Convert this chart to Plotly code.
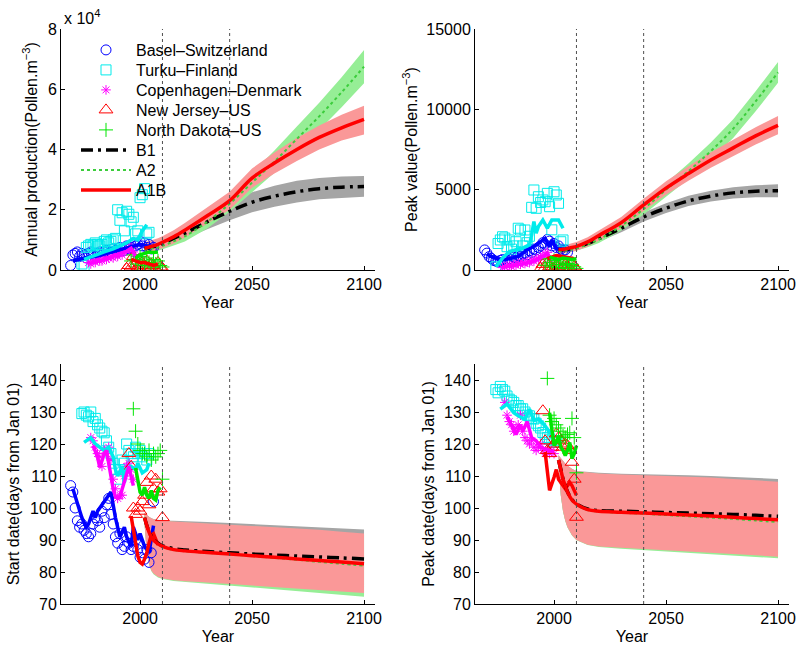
import plotly.graph_objects as go

# ---------------- observed data ----------------
# Panel 1: annual production (x 10^4 pollen m-3)
basel_years = list(range(1969, 2007))
basel_ann = [0.15, 0.5, 0.55, 0.6, 0.45, 0.55, 0.5, 0.4, 0.55, 0.6, 0.5, 0.45, 0.55, 0.6, 0.5,
             0.6, 0.65, 0.55, 0.6, 0.7, 0.65, 0.6, 0.75, 0.7, 0.65, 0.8, 0.7, 0.75, 0.9, 0.8,
             0.85, 0.95, 0.8, 0.9, 0.75, 0.85, 0.7, 0.75]
basel_ann_line_years = [1970, 1975, 1980, 1985, 1990, 1995, 2000, 2003, 2006]
basel_ann_line = [0.3, 0.4, 0.45, 0.55, 0.65, 0.75, 0.85, 0.8, 0.75]

turku_years = list(range(1974, 2005))
turku_ann = [0.2, 0.15, 0.75, 0.8, 0.85, 0.8, 0.9, 0.85, 0.8, 0.85, 0.95, 1.0, 0.9, 0.95, 1.0,
             1.05, 2.0, 1.65, 1.9, 1.3, 1.95, 1.85, 1.6, 1.75, 1.2, 1.3, 2.4, 2.5, 2.7, 1.2, 1.25]
turku_ann_line_years = [1975, 1980, 1984, 1988, 1991, 1994, 1997, 1999, 2001, 2003]
turku_ann_line = [0.35, 0.5, 0.6, 0.7, 0.8, 0.9, 1.05, 1.0, 1.3, 1.5]

cph_years = list(range(1977, 1999))
cph_ann = [0.25, 0.2, 0.3, 0.25, 0.35, 0.3, 0.3, 0.4, 0.35, 0.4, 0.45, 0.4, 0.5, 0.45, 0.55,
           0.5, 0.6, 0.65, 0.7, 0.75, 0.6, 0.45]
cph_ann_line_years = [1978, 1982, 1986, 1990, 1994, 1996, 1998]
cph_ann_line = [0.25, 0.3, 0.4, 0.5, 0.62, 0.72, 0.45]

nj_years = list(range(1994, 2011))
nj_ann = [0.05, 0.15, 0.1, 0.45, 0.2, 0.1, 0.05, 0.25, 0.15, 0.3, 0.1, 0.2, 0.15, 0.05, 0.25, 0.1, 0.05]
nj_ann_line_years = [1996, 1998, 2000, 2002, 2004, 2006, 2008]
nj_ann_line = [0.35, 0.3, 0.25, 0.25, 0.2, 0.15, 0.2]

nd_years = list(range(1996, 2011))
nd_ann = [0.3, 0.5, 0.35, 0.2, 0.45, 0.3, 0.15, 0.4, 0.25, 0.1, 0.35, 0.2, 0.3, 0.15, 0.1]
nd_ann_line_years = [1998, 2000, 2002, 2004, 2006, 2008]
nd_ann_line = [0.4, 0.5, 0.55, 0.6, 0.58, 0.6]

# Panel 2: peak value (pollen m-3)
basel_peak = [1250, 1050, 830, 725, 600, 550, 500, 600, 650, 550, 600, 700, 650, 800, 750, 900,
              850, 1000, 1050, 950, 1200, 1100, 1300, 1250, 1400, 1500, 1700, 1600, 1900, 1800,
              1500, 1650, 1400, 1500, 1300, 1200, 1250, 1100]
basel_peak_line_years = [1970, 1972, 1976, 1980, 1984, 1988, 1992, 1994, 1996, 1998, 1999, 2001, 2003, 2005, 2007]
basel_peak_line = [1000, 830, 620, 700, 850, 1250, 1560, 1800, 1970, 1450, 1870, 1350, 1300, 1250, 1245]

turku_peak = [200, 1650, 1870, 2070, 1990, 1450, 1870, 1300, 1500, 1760, 2600, 2490, 1500, 2490,
              1700, 2100, 3900, 4980, 3840, 4560, 4200, 4360, 4250, 4770, 3940, 2500, 4870, 4670,
              4150, 1760, 1870]
turku_peak_line_years = [1974, 1977, 1980, 1982, 1984, 1986, 1988, 1989, 1990, 1991, 1992, 1993,
                         1995, 1997, 1999, 2002, 2004]
turku_peak_line = [200, 740, 1140, 1200, 1300, 1370, 1500, 1560, 2180, 3010, 2300, 2700, 3110,
                   2600, 3110, 3110, 2600]

cph_peak = [150, 200, 250, 300, 200, 350, 300, 400, 350, 450, 400, 500, 450, 600, 550, 700, 650,
            800, 900, 1000, 1100, 700]
cph_peak_line_years = [1978, 1982, 1986, 1990, 1994, 1996, 1997, 1998]
cph_peak_line = [200, 280, 380, 500, 750, 900, 1000, 750]

nj_peak = [100, 350, 150, 450, 200, 100, 50, 300, 200, 550, 150, 350, 250, 100, 450, 200, 50]
nj_peak_line_years = [1997, 1999, 2001, 2003, 2005, 2007, 2009]
nj_peak_line = [700, 800, 900, 850, 800, 750, 700]

nd_peak = [300, 700, 450, 200, 600, 350, 150, 500, 300, 100, 400, 250, 350, 200, 100]
nd_peak_line_years = [1998, 2000, 2002, 2004, 2006, 2008, 2010]
nd_peak_line = [800, 700, 650, 750, 700, 650, 700]

# Panel 3: start date (days from Jan 01)
basel_start = [107, 105, 100, 96, 94, 95, 93, 92, 91, 92, 95, 97, 96, 94, 99, 97, 101, 103, 98,
               95, 91, 89, 92, 87, 88, 91, 89, 87, 88, 90, 87, 84.6, 86, 84, 87, 83, 86, 102]
basel_start_line_years = [1970, 1972, 1974, 1976, 1977, 1979, 1980, 1981, 1983, 1985, 1987, 1989,
                          1991, 1993, 1994, 1996, 1997, 1999, 2000, 2002, 2004, 2006]
basel_start_line = [106, 101, 97, 94, 95, 99, 97, 99, 101, 103, 105, 97, 91, 94, 91, 88, 94, 90,
                    92, 88, 86, 94.5]

turku_start = [129.5, 130, 129, 128.5, 130, 127, 128, 126, 125, 124, 123.5, 121, 119, 117, 114,
               112, 109, 112, 115, 114, 120, 118, 117, 116, 119, 117, 118, 116, 117, 115, 117]
turku_start_line_years = [1975, 1977, 1978, 1980, 1982, 1984, 1986, 1988, 1989, 1990, 1992, 1993,
                          1994, 1996, 1998, 1999, 2001, 2003, 2004]
turku_start_line = [120.5, 121.5, 122, 120, 119, 118, 119, 116, 112, 110, 113, 108, 112, 113, 112,
                    114, 111, 112, 114]

cph_start_years = list(range(1978, 1998))
cph_start = [122, 121, 119, 117, 116, 113, 118, 117, 119, 115, 109, 106, 103, 104, 104, 110, 113,
             114, 112, 109]
cph_start_line_years = [1979, 1980, 1981, 1982, 1983, 1984, 1985, 1986, 1987, 1988, 1989, 1990,
                        1991, 1992, 1993, 1994, 1995, 1996, 1997]
cph_start_line = [119.5, 118, 116, 112.7, 115, 117, 118, 114, 109, 106, 103.5, 103, 103.5, 106, 108,
                  110, 113, 110, 107]

nj_start_years = list(range(1995, 2011))
nj_start = [117, 113, 100, 98, 100, 99, 102, 104, 108, 101, 110, 106, 109, 105, 106, 97]
nj_start_line_years = [1996, 1997, 1998, 1999, 2000, 2001, 2002, 2003, 2004, 2005, 2006, 2007, 2008]
nj_start_line = [97.5, 93, 88, 85, 83, 82.5, 84, 86, 89, 91.5, 92, 90, 88.5]

nd_start_years = list(range(1997, 2011))
nd_start = [131, 124, 120, 118, 117, 117, 116, 118, 115, 117, 116, 117, 118, 109]
nd_start_line_years = [1998, 1999, 2000, 2001, 2002, 2003, 2004, 2005, 2006, 2007, 2008, 2009]
nd_start_line = [112.5, 108.5, 105, 104, 106.5, 104, 103, 105.5, 103, 102.5, 105.5, 106.5]

# Panel 4: peak date (days from Jan 01)
turku_pdate_years = list(range(1974, 2002))
turku_pdate = [137, 136, 138, 137, 136.5, 135, 134, 133.5, 133, 132, 132, 131, 131, 130, 129,
               128.8, 128, 127.8, 126.5, 125.7, 125, 123.6, 123, 122, 121.5, 121, 120.5, 121]
turku_pdate_line_years = [1976, 1979, 1982, 1984, 1987, 1989, 1991, 1993, 1996, 1998, 2000]
turku_pdate_line = [130.9, 132.5, 129.8, 128.8, 127.7, 130.9, 127.3, 127.8, 125.7, 123.6, 123]

cph_pdate_years = list(range(1978, 2001))
cph_pdate = [133, 129, 127, 126, 124, 125, 126, 129, 124, 122, 121, 120, 121, 119, 118, 119, 120,
             118, 117, 118, 117, 118, 117]
cph_pdate_line_years = [1979, 1981, 1983, 1985, 1986, 1988, 1990, 1992, 1994, 1996, 1998, 2000]
cph_pdate_line = [128.5, 126, 123, 126, 124, 127, 122, 121, 119, 118.5, 118, 117.5]

nj_pdate_years = list(range(1995, 2011))
nj_pdate = [130.4, 121, 118, 117, 119, 120, 123.2, 122, 121, 119, 120, 119.5, 118, 114.3, 109, 97.1]
nj_pdate_line_years = [1996, 1997, 1998, 2000, 2001, 2002, 2003, 2005, 2007, 2008, 2010]
nj_pdate_line = [117.5, 112, 105.5, 109.6, 112, 109, 108, 106, 108, 107, 104]

nd_pdate_years = list(range(1997, 2011))
nd_pdate = [140.5, 129, 127, 128, 126, 125, 124, 122.5, 122, 123, 123.5, 128, 122, 111]
nd_pdate_line_years = [1998, 1999, 2000, 2001, 2002, 2003, 2004, 2005, 2006, 2007, 2008, 2009, 2010]
nd_pdate_line = [129.8, 124, 119.5, 120.5, 122.6, 119, 118, 116.4, 118, 120.5, 115.5, 117, 119.5]

# ---------------- projections ----------------
proj_years = [2002, 2003, 2004, 2005, 2006, 2008, 2010, 2015, 2020, 2030, 2040, 2050, 2060, 2070,
              2080, 2090, 2100]

ann_A1B = [0.72, 0.74, 0.76, 0.78, 0.8, 0.85, 0.92, 1.1, 1.32, 1.8, 2.3, 3.05, 3.55, 4.0, 4.4, 4.72, 5.0]
ann_A1B_hi = [0.92, 0.94, 0.96, 0.98, 1.0, 1.05, 1.12, 1.32, 1.56, 2.07, 2.6, 3.37, 3.9, 4.38, 4.8, 5.15, 5.45]
ann_A1B_lo = [0.55, 0.56, 0.57, 0.58, 0.6, 0.65, 0.72, 0.88, 1.08, 1.53, 2.0, 2.73, 3.2, 3.62, 4.0, 4.3, 4.5]
ann_B1 = [0.7, 0.72, 0.74, 0.76, 0.78, 0.82, 0.88, 1.05, 1.22, 1.6, 1.95, 2.25, 2.45, 2.6, 2.7, 2.75, 2.77]
ann_B1_hi = [0.82, 0.84, 0.86, 0.88, 0.9, 0.95, 1.02, 1.22, 1.42, 1.85, 2.25, 2.58, 2.8, 2.96, 3.05, 3.1, 3.12]
ann_B1_lo = [0.58, 0.6, 0.62, 0.64, 0.66, 0.69, 0.74, 0.88, 1.02, 1.35, 1.65, 1.92, 2.1, 2.24, 2.35, 2.4, 2.43]
ann_A2 = [0.68, 0.69, 0.7, 0.71, 0.72, 0.75, 0.8, 0.95, 1.12, 1.6, 2.2, 2.9, 3.6, 4.35, 5.1, 5.9, 6.75]
ann_A2_hi = [0.78, 0.79, 0.8, 0.81, 0.82, 0.86, 0.92, 1.09, 1.29, 1.82, 2.47, 3.22, 3.97, 4.76, 5.55, 6.4, 7.3]
ann_A2_lo = [0.58, 0.59, 0.6, 0.61, 0.62, 0.64, 0.68, 0.81, 0.95, 1.38, 1.93, 2.58, 3.23, 3.94, 4.65, 5.4, 6.2]

peak_A1B = [1300, 1280, 1290, 1310, 1340, 1400, 1470, 1750, 2150, 2950, 4050, 5100, 6000, 6850, 7600, 8350, 9000]
peak_A1B_hi = [1550, 1530, 1540, 1560, 1590, 1660, 1740, 2040, 2460, 3300, 4430, 5520, 6450, 7330, 8110, 8890, 9580]
peak_A1B_lo = [1050, 1030, 1040, 1060, 1090, 1140, 1200, 1460, 1840, 2600, 3670, 4680, 5550, 6370, 7090, 7810, 8450]
peak_B1 = [1250, 1250, 1260, 1270, 1290, 1340, 1400, 1650, 1950, 2600, 3300, 3850, 4300, 4600, 4800, 4900, 4930]
peak_B1_hi = [1400, 1400, 1410, 1420, 1440, 1500, 1570, 1840, 2160, 2850, 3580, 4150, 4620, 4940, 5150, 5270, 5330]
peak_B1_lo = [1100, 1100, 1110, 1120, 1140, 1180, 1230, 1460, 1740, 2350, 3020, 3550, 3980, 4260, 4450, 4530, 4530]
peak_A2 = [1150, 1160, 1180, 1200, 1220, 1280, 1350, 1600, 1900, 2750, 3800, 5000, 6150, 7400, 8800, 10500, 12300]
peak_A2_hi = [1300, 1310, 1330, 1350, 1380, 1440, 1520, 1790, 2120, 3040, 4150, 5420, 6630, 7930, 9380, 11120, 12950]
peak_A2_lo = [1000, 1010, 1030, 1050, 1060, 1120, 1180, 1410, 1680, 2460, 3450, 4580, 5670, 6870, 8220, 9880, 11650]

start_A1B = [97, 94.5, 92.5, 91, 90, 88.8, 88, 87, 86.6, 86.1, 85.6, 85.1, 84.6, 84.1, 83.6, 83.1, 82.6]
start_A1B_hi = [98.5, 97.8, 97.2, 96.8, 96.5, 96.2, 96, 95.8, 95.6, 95.3, 95, 94.6, 94.2, 93.7, 93.2, 92.6, 92]
start_A1B_lo = [95, 86, 82.5, 80.5, 79.5, 78.5, 78, 77.4, 77.1, 76.7, 76.3, 75.9, 75.4, 74.9, 74.4, 73.9, 73.4]
start_B1 = [97, 94.6, 92.7, 91.2, 90.2, 89, 88.2, 87.3, 86.9, 86.4, 86.0, 85.6, 85.3, 85.0, 84.7, 84.4, 84.1]
start_B1_hi = [98.5, 97.8, 97.3, 96.9, 96.6, 96.3, 96.1, 96, 95.8, 95.6, 95.3, 95, 94.7, 94.3, 94, 93.6, 93.3]
start_B1_lo = [95, 86.1, 82.7, 80.7, 79.7, 78.7, 78.2, 77.7, 77.4, 77.1, 76.8, 76.5, 76.2, 75.9, 75.6, 75.3, 75.0]
start_A2 = [97, 94.5, 92.4, 90.9, 89.9, 88.7, 87.9, 86.9, 86.5, 86.0, 85.5, 85.0, 84.4, 83.8, 83.2, 82.6, 82.0]
start_A2_hi = [98.5, 97.7, 97.1, 96.7, 96.4, 96.1, 95.9, 95.7, 95.5, 95.2, 94.8, 94.4, 93.9, 93.4, 92.8, 92.2, 91.6]
start_A2_lo = [95, 85.9, 82.3, 80.3, 79.3, 78.3, 77.8, 77.2, 76.9, 76.4, 75.9, 75.3, 74.7, 74.1, 73.5, 72.9, 72.3]

pdate_A1B = [115, 112, 109, 107, 105, 102.5, 101.2, 99.5, 99.0, 98.7, 98.4, 98.1, 97.8, 97.5, 97.1, 96.7, 96.3]
pdate_A1B_hi = [116.5, 115.5, 114.5, 113.8, 113.2, 112.2, 111.5, 111.1, 110.8, 110.5, 110.3, 110.1, 109.8, 109.5, 109.1, 108.7, 108.2]
pdate_A1B_lo = [113, 104, 99, 96, 94, 91.5, 90, 88.5, 88, 87.5, 87, 86.6, 86.3, 86, 85.6, 85.2, 84.8]
pdate_B1 = [115, 112.1, 109.1, 107.1, 105.1, 102.6, 101.3, 99.7, 99.2, 99.0, 98.8, 98.6, 98.4, 98.2, 98.0, 97.7, 97.4]
pdate_B1_hi = [116.5, 115.5, 114.6, 113.9, 113.3, 112.3, 111.6, 111.2, 111, 110.7, 110.6, 110.4, 110.2, 110, 109.7, 109.4, 109.1]
pdate_B1_lo = [113, 104.1, 99.1, 96.1, 94.1, 91.6, 90.1, 88.7, 88.2, 87.8, 87.4, 87.1, 86.8, 86.6, 86.3, 86.0, 85.7]
pdate_A2 = [115, 112, 108.9, 106.9, 104.9, 102.4, 101.1, 99.4, 98.9, 98.5, 98.2, 97.8, 97.4, 97.0, 96.6, 96.1, 95.6]
pdate_A2_hi = [116.5, 115.4, 114.4, 113.7, 113.1, 112.1, 111.4, 111, 110.7, 110.3, 110.0, 109.7, 109.4, 109.0, 108.5, 108.0, 107.5]
pdate_A2_lo = [113, 103.9, 98.9, 95.9, 93.9, 91.4, 89.9, 88.4, 87.8, 87.3, 86.8, 86.4, 85.9, 85.5, 85.1, 84.7, 84.3]

# tick labels
x_ticks = [2000, 2050, 2100]
ann_ticks = [0, 2, 4, 6, 8]
peak_ticks = [0, 5000, 10000, 15000]
peak_tick_labels = ["0", "5000", "10000", "15000"]
day_ticks = [70, 80, 90, 100, 110, 120, 130, 140]
scenario_marks = [2010, 2040]

# ---------------- styling ----------------
FONT = "Liberation Sans, Arial, Helvetica, sans-serif"
C_BLUE, C_CYAN, C_MAG, C_RED, C_GRN = "rgb(0,0,255)", "rgb(0,235,235)", "rgb(255,0,255)", "rgb(255,0,0)", "rgb(0,230,0)"
BAND_B1, BAND_A2, BAND_A1B = "rgb(165,165,165)", "rgb(150,238,150)", "rgb(250,152,152)"

fig = go.Figure()

def band(xa, ya, lo, hi, color):
    fig.add_trace(go.Scatter(x=proj_years + proj_years[::-1], y=hi + lo[::-1], fill="toself",
                             fillcolor=color, line=dict(width=0), mode="lines", xaxis=xa, yaxis=ya,
                             showlegend=False, hoverinfo="skip"))

def markers(xa, ya, xs, ys, symbol, color, size, name, legend):
    fig.add_trace(go.Scatter(x=xs, y=ys, mode="markers", name=name, xaxis=xa, yaxis=ya,
                             marker=dict(symbol=symbol, size=size, color=color,
                                         line=dict(color=color, width=1)),
                             showlegend=legend is not None, legend=legend or "legend"))

def line(xa, ya, xs, ys, color, width=3.5, dash="solid", name=None, legend=None, shape="linear"):
    fig.add_trace(go.Scatter(x=xs, y=ys, mode="lines", name=name, xaxis=xa, yaxis=ya,
                             line=dict(color=color, width=width, dash=dash, shape=shape),
                             showlegend=legend is not None, legend=legend or "legend"))

panels = [
    dict(xa="x", ya="y",
         bands=[(ann_B1_lo, ann_B1_hi), (ann_A2_lo, ann_A2_hi), (ann_A1B_lo, ann_A1B_hi)],
         proj=[ann_B1, ann_A2, ann_A1B],
         obs=[(basel_years, basel_ann, basel_ann_line_years, basel_ann_line),
              (turku_years, turku_ann, turku_ann_line_years, turku_ann_line),
              (cph_years, cph_ann, cph_ann_line_years, cph_ann_line),
              (nj_years, nj_ann, nj_ann_line_years, nj_ann_line),
              (nd_years, nd_ann, nd_ann_line_years, nd_ann_line)]),
    dict(xa="x2", ya="y2",
         bands=[(peak_B1_lo, peak_B1_hi), (peak_A2_lo, peak_A2_hi), (peak_A1B_lo, peak_A1B_hi)],
         proj=[peak_B1, peak_A2, peak_A1B],
         obs=[(basel_years, basel_peak, basel_peak_line_years, basel_peak_line),
              (turku_years, turku_peak, turku_peak_line_years, turku_peak_line),
              (cph_years, cph_peak, cph_peak_line_years, cph_peak_line),
              (nj_years, nj_peak, nj_peak_line_years, nj_peak_line),
              (nd_years, nd_peak, nd_peak_line_years, nd_peak_line)]),
    dict(xa="x3", ya="y3",
         bands=[(start_B1_lo, start_B1_hi), (start_A2_lo, start_A2_hi), (start_A1B_lo, start_A1B_hi)],
         proj=[start_B1, start_A2, start_A1B],
         obs=[(basel_years, basel_start, basel_start_line_years, basel_start_line),
              (turku_years, turku_start, turku_start_line_years, turku_start_line),
              (cph_start_years, cph_start, cph_start_line_years, cph_start_line),
              (nj_start_years, nj_start, nj_start_line_years, nj_start_line),
              (nd_start_years, nd_start, nd_start_line_years, nd_start_line)]),
    dict(xa="x4", ya="y4",
         bands=[(pdate_B1_lo, pdate_B1_hi), (pdate_A2_lo, pdate_A2_hi), (pdate_A1B_lo, pdate_A1B_hi)],
         proj=[pdate_B1, pdate_A2, pdate_A1B],
         obs=[None,
              (turku_pdate_years, turku_pdate, turku_pdate_line_years, turku_pdate_line),
              (cph_pdate_years, cph_pdate, cph_pdate_line_years, cph_pdate_line),
              (nj_pdate_years, nj_pdate, nj_pdate_line_years, nj_pdate_line),
              (nd_pdate_years, nd_pdate, nd_pdate_line_years, nd_pdate_line)]),
]

obs_style = [("circle-open", C_BLUE, 10, "Basel\u2013Switzerland"),
             ("square-open", C_CYAN, 10, "Turku\u2013Finland"),
             ("asterisk-open", C_MAG, 8, "Copenhagen\u2013Denmark"),
             ("triangle-up-open", C_RED, 12, "New Jersey\u2013US"),
             ("cross-thin-open", C_GRN, 10, "North Dakota\u2013US")]
proj_style = [("B1", "black", "12px,5px,3px,5px", 3.5),
              ("A2", "rgb(60,205,60)", "dot", 2),
              ("A1B", C_RED, "solid", 3.5)]
band_colors = [BAND_B1, BAND_A2, BAND_A1B]

for pi, p in enumerate(panels):
    for (lo, hi), col in zip(p["bands"], band_colors):
        band(p["xa"], p["ya"], lo, hi, col)
    for oi, (o, st) in enumerate(zip(p["obs"], obs_style)):
        if o is None:
            continue
        legend = ("legend" if oi == 0 else f"legend{oi + 1}") if pi == 0 else None
        markers(p["xa"], p["ya"], o[0], o[1], st[0], st[1], st[2], st[3], legend)
    for oi, (o, st) in enumerate(zip(p["obs"], obs_style)):
        if o is None:
            continue
        line(p["xa"], p["ya"], o[2], o[3], st[1], width=3.5)
    for si, (vals, st) in enumerate(zip(p["proj"], proj_style)):
        legend = f"legend{si + 6}" if pi == 0 else None
        line(p["xa"], p["ya"], proj_years, vals, st[1], width=st[3], dash=st[2],
             name=st[0], legend=legend, shape="spline")

# ---------------- layout ----------------
W, H = 800, 653
def px_x(a, b):
    return [a / W, b / W]
def px_y(top, bottom):
    return [1 - bottom / H, 1 - top / H]

axis_common = dict(showline=True, linecolor="black", linewidth=1, ticks="inside", ticklen=4,
                   tickcolor="black", showgrid=False, zeroline=False, mirror=False,
                   tickfont=dict(family=FONT, size=16, color="black"))
xr = [1964.7, 2104.9]

def xaxis(dom, anchor):
    return dict(axis_common, domain=dom, range=xr, anchor=anchor, tickvals=x_ticks,
                title=dict(text="Year", font=dict(family=FONT, size=16, color="black"), standoff=4))

def yaxis(dom, anchor, rng, ticks, title, standoff, labels=None):
    d = dict(axis_common, domain=dom, range=rng, anchor=anchor, tickvals=ticks,
             title=dict(text=title, font=dict(family=FONT, size=16, color="black"), standoff=standoff))
    if labels is not None:
        d["ticktext"] = labels
    return d

top_dom = px_y(29, 270)
bot_dom = px_y(364, 604)
left_dom = px_x(61, 375)
right_dom = px_x(475, 789)

layout = dict(
    width=W, height=H, autosize=False,
    margin=dict(l=0, r=0, t=0, b=0, pad=0, autoexpand=False),
    paper_bgcolor="white", plot_bgcolor="white",
    font=dict(family=FONT, size=16, color="black"),
    xaxis=xaxis(left_dom, "y"), yaxis=yaxis(top_dom, "x", [0, 8], ann_ticks,
                                            "Annual production(Pollen.m<sup>\u22123</sup>)", 6),
    xaxis2=xaxis(right_dom, "y2"), yaxis2=yaxis(top_dom, "x2", [0, 15000], peak_ticks,
                                                "Peak value(Pollen.m<sup>\u22123</sup>)", 4,
                                                peak_tick_labels),
    xaxis3=xaxis(left_dom, "y3"), yaxis3=yaxis(bot_dom, "x3", [70, 145], day_ticks,
                                               "Start date(days from Jan 01)", 6),
    xaxis4=xaxis(right_dom, "y4"), yaxis4=yaxis(bot_dom, "x4", [70, 145], day_ticks,
                                                "Peak date(days from Jan 01)", 5),
    showlegend=True,
)

legend_rows = [50, 70, 90, 110, 130, 150, 170, 190]
for i, row in enumerate(legend_rows):
    key = "legend" if i == 0 else f"legend{i + 1}"
    layout[key] = dict(x=76 / W, y=1 - row / H, xanchor="left", yanchor="middle",
                       bgcolor="rgba(0,0,0,0)", borderwidth=0, itemwidth=50,
                       font=dict(family=FONT, size=16, color="black"))

fig.update_layout(**layout)

shapes = []
for xa, ya in [("x", "y"), ("x2", "y2"), ("x3", "y3"), ("x4", "y4")]:
    for yr in scenario_marks:
        shapes.append(dict(type="line", xref=xa, yref=f"{ya} domain", x0=yr, x1=yr, y0=0, y1=1,
                           line=dict(color="rgb(80,80,80)", width=1, dash="dot"), layer="above"))
fig.update_layout(shapes=shapes)

fig.add_annotation(text="x 10<sup>4</sup>", xref="paper", yref="paper", x=62 / W, y=1 - 17 / H,
                   xanchor="left", yanchor="middle", showarrow=False,
                   font=dict(family=FONT, size=16, color="black"))

fig.write_html("out.html", config={"responsive": False, "displayModeBar": False},
               post_script="document.body.style.margin='0';document.body.style.overflow='hidden';")
